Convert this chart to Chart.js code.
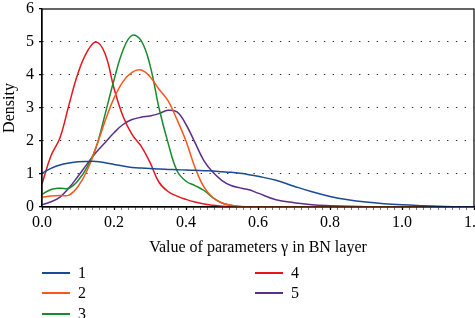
<!DOCTYPE html>
<html>
<head>
<meta charset="utf-8">
<script src="https://cdn.jsdelivr.net/npm/chart.js@4/dist/chart.umd.min.js"></script>
<style>
  html, body { margin: 0; padding: 0; background: #fff; overflow: hidden; width: 475px; height: 318px; }
  #wrap { position: absolute; left: 0; top: -4px; width: 487px; height: 322px; }
  #legend { position: absolute; left: 42px; top: 263px; display: grid; grid-auto-flow: column;
            grid-template-rows: repeat(3, 20.3px); grid-template-columns: 213px 120px;
            font-family: "Liberation Serif", serif; font-size: 16px; color: #000; }
  .item { display: flex; align-items: center; height: 20.3px; }
  .swatch { width: 28px; height: 0; border-top: 2px solid; margin-right: 8px; }
</style>
</head>
<body>
<div id="wrap"><canvas id="c"></canvas></div>
<div id="legend"></div>
<script>
// Common x grid (value of parameter gamma)
const xs = [0, 0.025, 0.05, 0.075, 0.1, 0.125, 0.15, 0.175, 0.2, 0.225, 0.25, 0.275, 0.3, 0.325, 0.35, 0.375,
            0.4, 0.425, 0.45, 0.475, 0.5, 0.525, 0.55, 0.575, 0.6, 0.65, 0.7, 0.75, 0.8, 0.85, 0.9, 0.95,
            1.0, 1.05, 1.1, 1.15, 1.2];

const series1 = [1.02, 1.17, 1.27, 1.33, 1.37, 1.38, 1.38, 1.34, 1.29, 1.24, 1.2, 1.18, 1.17, 1.15, 1.14, 1.13,
                 1.12, 1.11, 1.1, 1.09, 1.07, 1.05, 1.02, 0.98, 0.93, 0.81, 0.63, 0.46, 0.32, 0.22, 0.15, 0.1,
                 0.065, 0.04, 0.02, 0.01, 0.005];
const series2 = [0.3, 0.33, 0.35, 0.36, 0.62, 1.1, 1.8, 2.6, 3.3, 3.8, 4.08, 4.15, 3.95, 3.57, 3.22, 2.65,
                 2.0, 1.2, 0.6, 0.28, 0.12, 0.05, 0.02, 0, 0, 0, 0, 0, 0, 0, 0, 0,
                 0, 0, 0, 0, 0];
const series3 = [0.38, 0.53, 0.57, 0.57, 0.8, 1.2, 1.8, 2.8, 3.85, 4.75, 5.2, 5.05, 4.3, 3.0, 1.95, 1.1,
                 0.78, 0.65, 0.5, 0.28, 0.12, 0.05, 0.01, 0, 0, 0, 0, 0, 0, 0, 0, 0,
                 0, 0, 0, 0, 0];
const series4 = [0.7, 1.55, 2.1, 3.1, 4.05, 4.7, 5.0, 4.65, 3.6, 2.75, 2.2, 1.85, 1.35, 0.75, 0.47, 0.33,
                 0.23, 0.15, 0.09, 0.05, 0.02, 0.005, 0, 0, 0, 0, 0, 0, 0, 0, 0, 0,
                 0, 0, 0, 0, 0];
const series5 = [0.07, 0.16, 0.3, 0.58, 0.93, 1.3, 1.65, 1.95, 2.25, 2.5, 2.65, 2.72, 2.76, 2.83, 2.93, 2.88,
                 2.5, 1.95, 1.4, 1.05, 0.8, 0.65, 0.58, 0.52, 0.42, 0.22, 0.13, 0.07, 0.04, 0.02, 0.01, 0,
                 0, 0, 0, 0, 0];

const seriesNames = ['1', '2', '3', '4', '5'];
const seriesColors = ['#1a4a97', '#f8581c', '#1a8a2e', '#e6161c', '#5c2e8c'];
const xTickLabels = ['0.0', '0.2', '0.4', '0.6', '0.8', '1.0', '1.2'];
const yTickLabels = ['0', '1', '2', '3', '4', '5', '6'];
const xTitle = 'Value of parameters \u03b3 in BN layer';
const yTitle = 'Density';

const allSeries = [series1, series2, series3, series4, series5];
const datasets = allSeries.map((s, k) => ({
  label: seriesNames[k],
  data: xs.map((x, i) => ({ x: x, y: s[i] })),
  borderColor: seriesColors[k],
  backgroundColor: seriesColors[k],
  borderWidth: 1.5,
  pointRadius: 0,
  fill: false,
  tension: 0.4
}));

const serif = '"Liberation Serif", "DejaVu Serif", serif';

const framePlugin = {
  id: 'frame',
  afterDraw(chart) {
    const { ctx, chartArea: a } = chart;
    ctx.save();
    ctx.strokeStyle = '#000';
    ctx.lineWidth = 1.2;
    ctx.strokeRect(a.left, a.top, a.right - a.left, a.bottom - a.top);
    ctx.restore();
  }
};

const chart = new Chart(document.getElementById('c'), {
  type: 'line',
  data: { datasets },
  options: {
    responsive: true,
    maintainAspectRatio: false,
    animation: false,
    layout: { padding: { left: 0, right: 0, top: 0, bottom: 61 } },
    plugins: { legend: { display: false }, tooltip: { enabled: false } },
    scales: {
      x: {
        type: 'linear',
        min: 0, max: 1.2,
        afterBuildTicks(scale) {
          const t = [];
          for (let i = 0; i <= 60; i++) t.push({ value: Math.round(i * 2) / 100 });
          scale.ticks = t;
        },
        afterFit(scale) { scale.height = 50; },
        ticks: {
          autoSkip: false, maxRotation: 0, minRotation: 0, padding: 3,
          color: '#000', font: { family: serif, size: 16 },
          callback: (v, i) => (i % 10 === 0 ? xTickLabels[i / 10] : '')
        },
        grid: {
          drawOnChartArea: false, drawTicks: true, tickLength: 3,
          tickColor: (c) => (c.index % 10 === 0 ? '#000' : '#444'),
          tickWidth: (c) => (c.index % 10 === 0 ? 1.3 : 0.7)
        },
        border: { display: true, color: '#000', width: 1.3 },
        title: {
          display: true, text: xTitle, color: '#000',
          font: { family: serif, size: 16 }, padding: { top: 0, bottom: 0 }
        }
      },
      y: {
        min: 0, max: 6,
        afterFit(scale) { scale.width = 42; },
        ticks: {
          stepSize: 1, padding: 5, color: '#000',
          font: { family: serif, size: 16, lineHeight: 1.0 },
          callback: (v) => yTickLabels[Math.round(v)]
        },
        grid: {
          color: (c) => (c.tick && (c.tick.value === 0 || c.tick.value === 6) ? 'rgba(0,0,0,0)' : '#222'),
          lineWidth: 1.1,
          tickLength: 3, tickColor: '#000', tickWidth: 1.2
        },
        border: { display: true, color: '#000', width: 1.3, dash: [1.3, 7.5] },
        title: {
          display: true, text: yTitle, color: '#000',
          font: { family: serif, size: 16 }, padding: { top: 0, bottom: 0 }
        }
      }
    }
  },
  plugins: [framePlugin]
});

// HTML legend (column-major, 2 columns) generated from chart datasets
const legend = document.getElementById('legend');
chart.data.datasets.forEach((ds) => {
  const item = document.createElement('div');
  item.className = 'item';
  const sw = document.createElement('span');
  sw.className = 'swatch';
  sw.style.borderTopColor = ds.borderColor;
  const tx = document.createElement('span');
  tx.textContent = ds.label;
  item.appendChild(sw);
  item.appendChild(tx);
  legend.appendChild(item);
});
</script>
</body>
</html>
